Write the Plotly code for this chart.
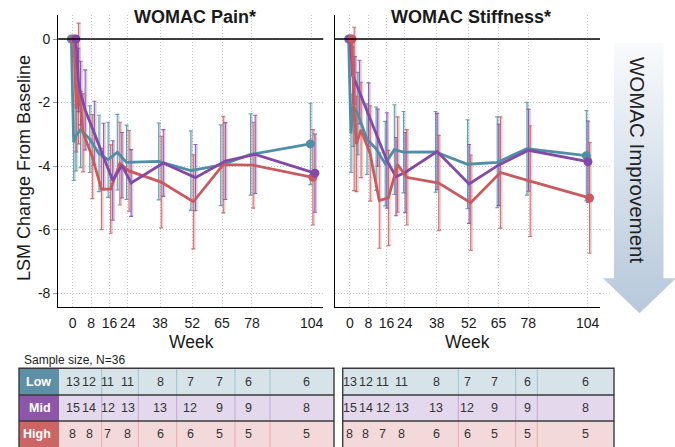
import plotly.graph_objects as go

W, H = 675, 447

# ---------------- data ----------------
weeks = [0, 1, 2, 4, 8, 12, 16, 20, 24, 38, 52, 65, 78, 104]
tick_weeks = [0, 8, 16, 24, 38, 52, 65, 78, 104]
tick_labels = ["0", "8", "16", "24", "38", "52", "65", "78", "104"]
y_ticks = [0, -2, -4, -6, -8]
y_labels = ["0", "-2", "-4", "-6", "-8"]
groups = ["Low", "Mid", "High"]

pain_low = [0, -3.25, -3.05, -2.85, -3.15, -3.6, -3.8, -3.56, -3.88, -3.85, -4.14, -3.97, -3.63, -3.3]
pain_low_ci = [0, 1.2, 1.1, 1.2, 1.05, 1.2, 1.18, 1.19, 1.17, 1.21, 1.25, 1.27, 1.28, 1.28]
pain_mid = [0, -1.29, -1.7, -2.23, -2.96, -3.7, -4.45, -3.97, -4.53, -3.9, -4.36, -3.84, -3.63, -4.22]
pain_mid_ci = [0, 1.0, 1.0, 1.26, 1.0, 1.05, 1.25, 1.03, 1.05, 1.05, 1.04, 1.21, 1.23, 1.23]
pain_high = [0, -2.2, -1.4, -2.95, -3.7, -4.72, -4.72, -3.92, -4.15, -4.5, -5.12, -3.95, -3.97, -4.35]
pain_high_ci = [0, 1.35, 1.9, 1.23, 1.32, 1.28, 1.39, 1.3, 1.27, 1.44, 1.48, 1.52, 1.35, 1.5]

stiff_low = [0, -2.97, -2.1, -2.35, -3.15, -3.45, -3.92, -3.48, -3.56, -3.55, -3.94, -3.88, -3.45, -3.67]
stiff_low_ci = [0, 1.23, 1.28, 1.3, 1.11, 1.31, 1.33, 1.41, 1.28, 1.27, 1.4, 1.43, 1.46, 1.42]
stiff_mid = [0, -1.15, -1.3, -1.67, -2.38, -3.1, -3.82, -4.33, -4.2, -3.54, -4.56, -3.96, -3.5, -3.86]
stiff_mid_ci = [0, 0.9, 0.75, 1.0, 1.0, 0.9, 1.5, 1.23, 1.26, 1.2, 1.24, 1.28, 1.29, 1.28]
stiff_high = [0, -2.2, -3.3, -2.86, -3.6, -5.08, -5.0, -3.95, -4.35, -4.53, -5.15, -4.2, -4.47, -5.0]
stiff_high_ci = [0, 2.57, 1.5, 1.5, 1.5, 1.5, 1.5, 1.5, 1.5, 1.5, 1.5, 1.75, 1.74, 1.74]

n_low = [13, 12, 11, 11, 8, 7, 7, 6, 6]
n_mid = [15, 14, 12, 13, 13, 12, 9, 9, 8]
n_high = [8, 8, 7, 8, 6, 6, 5, 5, 5]

# ---------------- styles ----------------
FONT = "Liberation Sans, Arial, sans-serif"
line_col = {"Low": "#4E8FA7", "Mid": "#8548A9", "High": "#CA5A5D"}
err_light = {"Low": "rgba(78,143,167,0.30)", "Mid": "rgba(133,72,169,0.30)", "High": "rgba(202,90,93,0.30)"}
err_dark = {"Low": "rgba(78,143,167,0.85)", "Mid": "rgba(133,72,169,0.85)", "High": "rgba(202,90,93,0.85)"}
row_bg = {"Low": "#D6E4EA", "Mid": "#E4D8EC", "High": "#F3D9D9"}
lab_bg = {"Low": "#5D90A6", "Mid": "#8E56AB", "High": "#CB6664"}
sep_col = {"Low": "#9EC1D0", "Mid": "#C6A7D7", "High": "#E6AAAA"}
GRID = "#C8C8C8"
DOT = "1px,2px"
SHADOW = 0.5  # small horizontal shift of the pale error-bar band (weeks)


def px(x):
    return x / W


def py(y):
    return 1 - y / H


panels = [
    dict(xa="x", ya="y", data={"Low": (pain_low, pain_low_ci), "Mid": (pain_mid, pain_mid_ci),
                                "High": (pain_high, pain_high_ci)},
         offs={"Low": -0.6, "High": 0.5, "Mid": 1.4}, order=["Low", "High", "Mid"]),
    dict(xa="x2", ya="y2", data={"Low": (stiff_low, stiff_low_ci), "Mid": (stiff_mid, stiff_mid_ci),
                                  "High": (stiff_high, stiff_high_ci)},
         offs={"Low": -0.6, "Mid": 0.1, "High": 0.8}, order=["Low", "Mid", "High"]),
]

fig = go.Figure()

for p in panels:
    for g in p["order"]:
        vals, ci = p["data"][g]
        xs = [w + p["offs"][g] for w in weeks]
        for shift, col, th, wd in [(SHADOW, err_light[g], 2.2, 0), (0, err_dark[g], 1.1, 2)]:
            fig.add_trace(go.Scatter(
                x=[v + shift for v in xs], y=vals, mode="markers", xaxis=p["xa"], yaxis=p["ya"],
                marker=dict(size=1, color="rgba(0,0,0,0)"),
                error_y=dict(type="data", array=ci, color=col, thickness=th, width=wd),
                hoverinfo="skip", showlegend=False))
    for g in p["order"]:
        vals, ci = p["data"][g]
        xs = [w + p["offs"][g] for w in weeks]
        fig.add_trace(go.Scatter(
            x=xs, y=vals, mode="lines", xaxis=p["xa"], yaxis=p["ya"],
            line=dict(color=line_col[g], width=2.8), showlegend=False, name=g))
    for g in p["order"]:
        vals, ci = p["data"][g]
        xs = [w + p["offs"][g] for w in weeks]
        fig.add_trace(go.Scatter(
            x=[xs[0], xs[-1]], y=[vals[0], vals[-1]], mode="markers",
            xaxis=p["xa"], yaxis=p["ya"],
            marker=dict(size=9, color=line_col[g]), showlegend=False, name=g))

# improvement arrow (decoration) on its own hidden axes, pixel coordinates
arrow_x = [614, 663.5, 663.5, 676, 639.5, 603, 614, 614]
arrow_y = [43, 43, 278.3, 278.3, 313.3, 278.3, 278.3, 43]
fig.add_trace(go.Scatter(
    x=arrow_x, y=[H - v for v in arrow_y], mode="lines", fill="toself",
    line=dict(width=0, color="rgba(0,0,0,0)"),
    fillgradient=dict(type="vertical",
                      colorscale=[[0, "#B7C9DC"], [0.2, "#C2D1E1"], [1, "#F9FAFC"]],
                      start=H - 313.3, stop=H - 43),
    xaxis="x3", yaxis="y3", hoverinfo="skip", showlegend=False))

axis_common = dict(showline=True, linecolor="black", linewidth=1.3, showgrid=True,
                   gridcolor=GRID, griddash=DOT, gridwidth=1, zeroline=False,
                   tickfont=dict(size=14, color="#1a1a1a"))

fig.update_layout(
    width=W, height=H, margin=dict(l=0, r=0, t=0, b=0),
    paper_bgcolor="white", plot_bgcolor="rgba(0,0,0,0)",
    font=dict(family=FONT, color="#1a1a1a"),
    xaxis=dict(domain=[px(58.3), px(323.3)], range=[-6.27, 109.05], anchor="y",
               tickvals=tick_weeks, ticktext=tick_labels, ticks="", ticklabelstandoff=3,
               **axis_common),
    yaxis=dict(domain=[py(306.7), py(15)], range=[-8.42, 0.755], anchor="x",
               tickvals=y_ticks, ticktext=y_labels, ticks="outside", ticklen=4,
               tickcolor="#999", **axis_common),
    xaxis2=dict(domain=[px(335), px(600)], range=[-6.56, 109.38], anchor="y2",
                tickvals=tick_weeks, ticktext=tick_labels, ticks="", ticklabelstandoff=3,
                **axis_common),
    yaxis2=dict(domain=[py(306.7), py(15)], range=[-8.42, 0.755], anchor="x2",
                tickvals=y_ticks, showticklabels=False, ticks="", **axis_common),
    xaxis3=dict(domain=[px(598), 1], range=[598, 675], visible=False, fixedrange=True, anchor="y3"),
    yaxis3=dict(domain=[py(320), py(35)], range=[H - 320, H - 35], visible=False,
                fixedrange=True, anchor="x3"),
)

shapes = []
for xa, ya in [("x", "y"), ("x2", "y2")]:
    shapes.append(dict(type="line", xref=f"{xa} domain", yref=ya, x0=0, x1=1, y0=0, y1=0,
                       line=dict(color="black", width=1.3)))
for v in y_ticks[1:]:
    shapes.append(dict(type="line", xref="paper", yref="y2", x0=px(600), x1=px(612), y0=v, y1=v,
                       line=dict(color=GRID, width=1, dash=DOT)))

annotations = []


def ann(text, x, y, size, color="#1a1a1a", xanchor="center", angle=0):
    annotations.append(dict(text=text, x=px(x), y=py(y), xref="paper", yref="paper",
                            xanchor=xanchor, yanchor="middle", textangle=angle,
                            showarrow=False, font=dict(size=size, color=color)))


ann("<b>WOMAC Pain*</b>", 195, 17, 18)
ann("<b>WOMAC Stiffness*</b>", 471, 17, 18)
ann("LSM Change From Baseline", 24, 168, 18, angle=-90)
ann("Week", 191, 342, 17.5)
ann("Week", 467, 342, 17.5)
ann("WOMAC Improvement", 638, 160, 20.5, color="#222", angle=90)
ann("Sample size, N=36", 22, 360, 12, color="#222", xanchor="left")

# ---------------- sample size tables ----------------
row_edges = [368.3, 395, 421, 449]
row_text_y = [381.5, 408, 434]
counts = {"Low": n_low, "Mid": n_mid, "High": n_high}
tables = [
    dict(x0=59, x1=334, lab=True, cols=[72.7, 89.3, 107.7, 127.7, 160, 190, 219, 248.3, 306.7],
         seps=[101.7, 138.3, 176.7, 235, 270]),
    dict(x0=342.7, x1=614, lab=False, cols=[349.5, 365.5, 382.5, 402, 436, 467, 494, 527, 585],
         seps=[458.3, 515.7, 537.3]),
]
for t in tables:
    for i, g in enumerate(groups):
        ya, yb = row_edges[i], row_edges[i + 1]
        shapes.append(dict(type="rect", xref="paper", yref="paper", x0=px(t["x0"]), x1=px(t["x1"]),
                           y0=py(yb), y1=py(ya), fillcolor=row_bg[g], line=dict(width=0), layer="below"))
        for s in t["seps"]:
            shapes.append(dict(type="line", xref="paper", yref="paper", x0=px(s), x1=px(s),
                               y0=py(yb), y1=py(ya), line=dict(color=sep_col[g], width=1)))
        if t["lab"]:
            shapes.append(dict(type="rect", xref="paper", yref="paper", x0=px(19), x1=px(59),
                               y0=py(yb), y1=py(ya), fillcolor=lab_bg[g], line=dict(width=0),
                               layer="below"))
            ann(f"<b>{g}</b>", 53, row_text_y[i], 12.5, color="white", xanchor="right")
        for cx, n in zip(t["cols"], counts[g]):
            ann(str(n), cx, row_text_y[i], 12.5, color="#333")
    left = 19 if t["lab"] else t["x0"]
    shapes.append(dict(type="rect", xref="paper", yref="paper", x0=px(left), x1=px(t["x1"]),
                       y0=py(449), y1=py(368.3), line=dict(color="#3a3a3a", width=1.4)))
    for e in row_edges[1:3]:
        shapes.append(dict(type="line", xref="paper", yref="paper", x0=px(left), x1=px(t["x1"]),
                           y0=py(e), y1=py(e), line=dict(color="#3a3a3a", width=1.3)))

fig.update_layout(shapes=shapes, annotations=annotations)
fig.write_html("out.html", config={"displayModeBar": False},
               post_script="document.body.style.margin='0';document.body.style.overflow='hidden';")
